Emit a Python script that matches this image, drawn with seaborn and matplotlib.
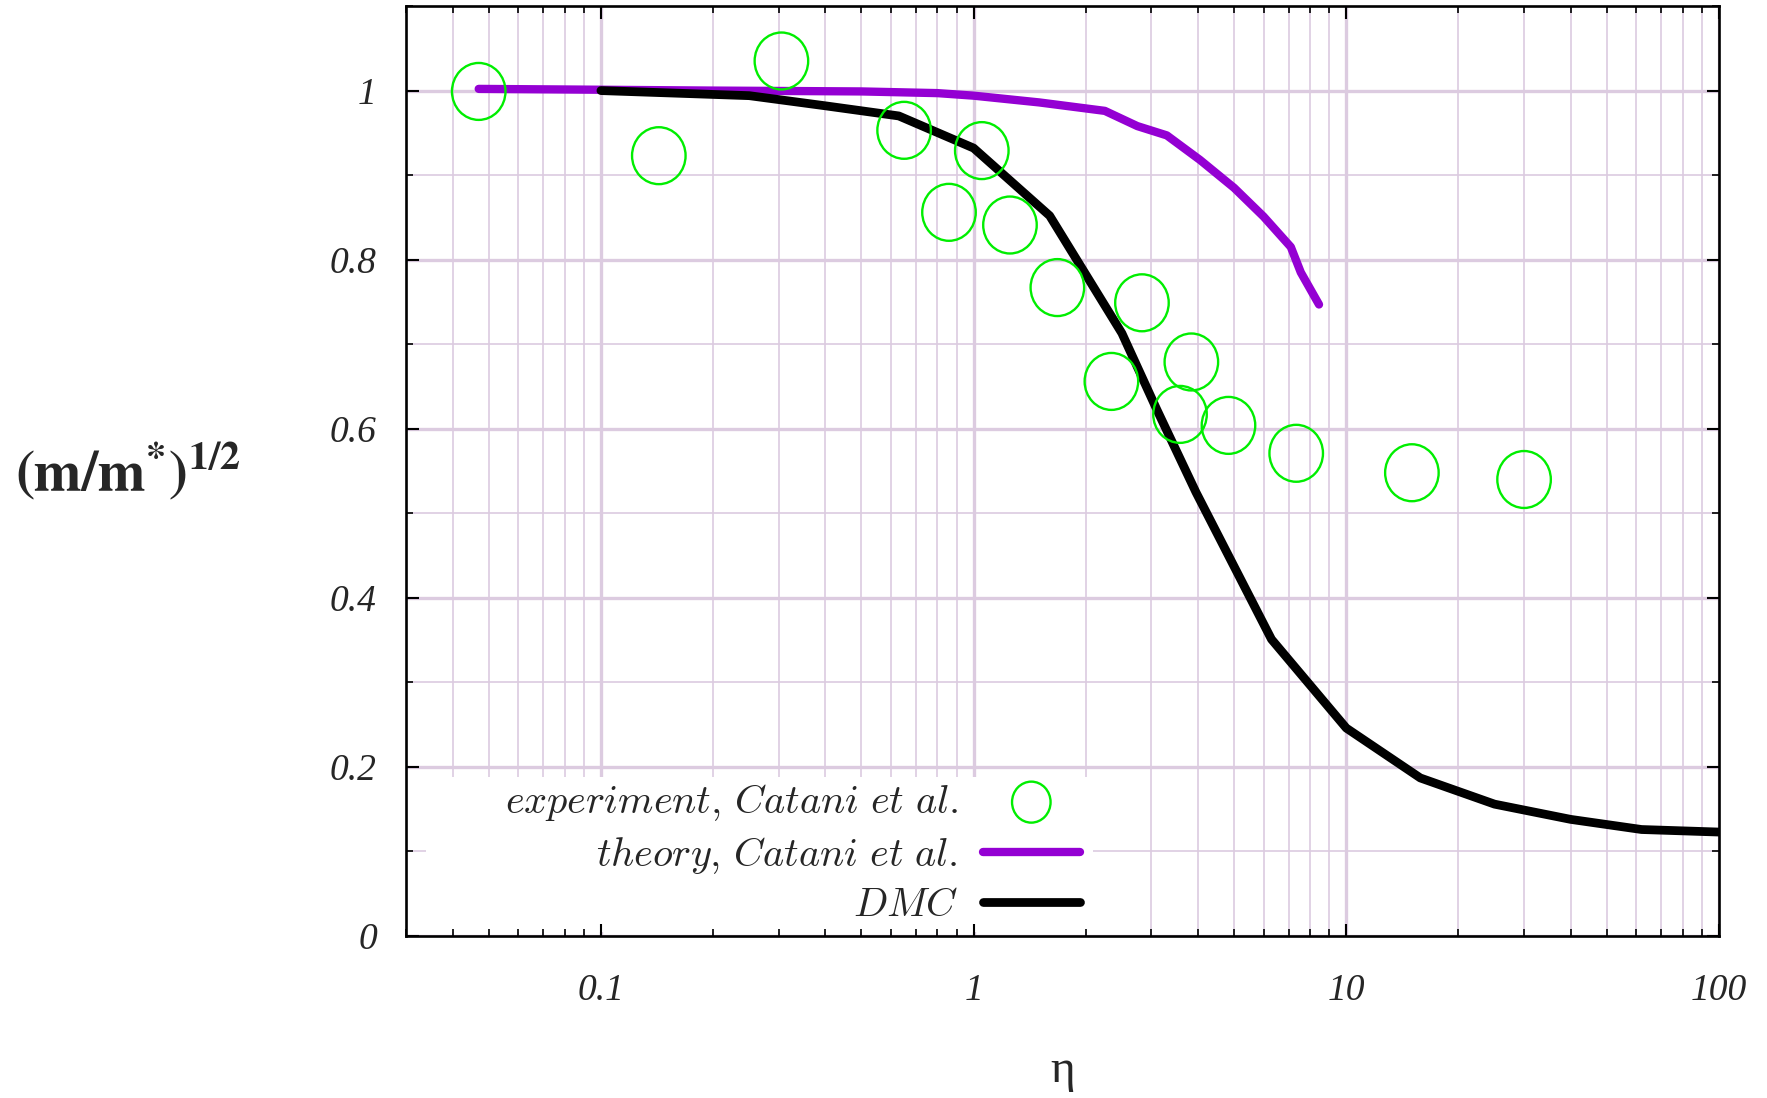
import numpy as np
import pandas as pd
import matplotlib
matplotlib.use("Agg")
import matplotlib.pyplot as plt
import seaborn as sns
from matplotlib.path import Path
from matplotlib.patches import Rectangle
from matplotlib.transforms import Affine2D
from matplotlib.ticker import MultipleLocator, LogLocator, NullFormatter, FixedLocator
from matplotlib.font_manager import FontProperties

# ---------------- data ----------------
exp_eta = [0.047, 0.143, 0.305, 0.651, 1.052, 0.859, 1.252, 1.678, 2.83, 2.343,
           3.84, 3.58, 4.83, 7.34, 15.0, 30.0]
exp_val = [0.999, 0.923, 1.035, 0.953, 0.929, 0.856, 0.841, 0.767, 0.749, 0.656,
           0.679, 0.617, 0.604, 0.571, 0.548, 0.540]

theory_eta = [0.047, 0.1, 0.2, 0.5, 0.8, 1.0, 1.5, 2.25, 2.75, 3.3, 4.05, 5.0,
              6.0, 7.1, 7.55, 8.45]
theory_val = [1.002, 1.001, 1.0, 0.999, 0.997, 0.994, 0.986, 0.976, 0.958, 0.947,
              0.918, 0.885, 0.851, 0.815, 0.785, 0.747]

dmc_eta = [0.1, 0.25, 0.4, 0.63, 1.0, 1.6, 2.5, 3.1, 3.95, 6.3, 10.0, 15.8, 25.0,
           40.0, 62.0, 100.0]
dmc_val = [1.0, 0.994, 0.982, 0.970, 0.932, 0.852, 0.713, 0.623, 0.525, 0.351,
           0.246, 0.187, 0.156, 0.138, 0.126, 0.123]

x_ticks = [0.1, 1, 10, 100]
x_tick_labels = ["0.1", "1", "10", "100"]
y_ticks = [0, 0.2, 0.4, 0.6, 0.8, 1.0]
y_tick_labels = ["0", "0.2", "0.4", "0.6", "0.8", "1"]

labels = [r"$\mathit{experiment,\,Catani\ et\ al.}$",
          r"$\mathit{theory,\,Catani\ et\ al.}$",
          r"$\mathit{DMC}$"]

exp_df = pd.DataFrame({"eta": exp_eta, "val": exp_val})
theory_df = pd.DataFrame({"eta": theory_eta, "val": theory_val})
dmc_df = pd.DataFrame({"eta": dmc_eta, "val": dmc_val})

# ---------------- style ----------------
sns.set_theme(style="ticks")
plt.rcParams['font.family'] = ['Liberation Serif', 'DejaVu Serif']
plt.rcParams['mathtext.fontset'] = 'cm'

GREEN = "#00ee00"
PURPLE = "#9400d3"
GRID = "#dccbe0"

RECT = [0.2298, 0.1475, 0.743, 0.847]
XLIM = (0.03, 100)
YLIM = (0, 1.1)
fig = plt.figure(figsize=(17.67, 10.98), dpi=100)
ax = fig.add_axes(RECT)

ellipse = Path.unit_circle().transformed(Affine2D().scale(0.94, 1.0))

sns.lineplot(data=theory_df, x="eta", y="val", ax=ax, color=PURPLE, lw=6,
             label=labels[1], zorder=3, sort=False)
sns.lineplot(data=dmc_df, x="eta", y="val", ax=ax, color="black", lw=6.3,
             label=labels[2], zorder=4, sort=False)
sns.scatterplot(data=exp_df, x="eta", y="val", ax=ax, marker=ellipse, s=41**2,
                facecolor="none", edgecolor=GREEN, linewidth=1.7,
                label=labels[0], zorder=5)


def setup_ticks(a):
    a.set_xscale("log")
    a.set_xlim(*XLIM)
    a.set_ylim(*YLIM)
    a.xaxis.set_major_locator(FixedLocator(x_ticks))
    a.xaxis.set_minor_locator(LogLocator(base=10, subs=np.arange(2, 10)))
    a.xaxis.set_minor_formatter(NullFormatter())
    a.yaxis.set_major_locator(FixedLocator(y_ticks))
    a.yaxis.set_minor_locator(MultipleLocator(0.1))


setup_ticks(ax)
ax.set_xticks(x_ticks, x_tick_labels, fontstyle="italic", fontsize=27)
ax.set_yticks(y_ticks, y_tick_labels, fontstyle="italic", fontsize=27)
ax.xaxis.set_minor_locator(LogLocator(base=10, subs=np.arange(2, 10)))
ax.xaxis.set_minor_formatter(NullFormatter())

ax.grid(which="major", color=GRID, lw=2.4)
ax.grid(which="minor", color=GRID, lw=1.2)
ax.set_axisbelow(True)
for sp in ax.spines.values():
    sp.set_visible(False)
ax.tick_params(which="both", length=0)
ax.tick_params(axis="x", which="major", pad=27)
ax.tick_params(axis="y", which="major", pad=21)

# key background (clears the grid behind the key, like gnuplot)
ax.add_patch(Rectangle((0.0155, 0.004), 0.508, 0.167, transform=ax.transAxes,
                       facecolor="white", edgecolor="none", zorder=1))

# overlay axes: frame and ticks drawn on top
ax2 = fig.add_axes(RECT)
setup_ticks(ax2)
ax2.patch.set_visible(False)
for sp in ax2.spines.values():
    sp.set_linewidth(1.9)
    sp.set_color("black")
    sp.set_visible(True)
ax2.tick_params(which="both", direction="in", top=True, right=True,
                color="black", labelbottom=False, labelleft=False)
ax2.tick_params(which="major", length=9, width=1.5)
ax2.tick_params(which="minor", length=5, width=1.2)
ax2.grid(False, which="both")

ax.set_xlabel("η", fontsize=34, family="Liberation Serif")
ax.xaxis.set_label_coords(0.5, -0.145)
ax.xaxis.label.set_va("center")
ax.set_ylabel(r"$\mathbf{(m/m^{*})^{1/2}}$", fontsize=41, rotation=0,
              math_fontfamily="stix")
ax.yaxis.set_label_coords(-0.212, 0.50)
ax.yaxis.label.set_va("center")
ax.yaxis.label.set_ha("center")

handles, labs = ax.get_legend_handles_labels()
order = [labs.index(l) for l in labels]
leg = ax.legend([handles[i] for i in order], [labs[i] for i in order],
                loc="lower right", bbox_to_anchor=(0.611, 0.1575),
                bbox_transform=fig.transFigure, borderaxespad=0.0,
                markerfirst=False, frameon=False, markerscale=0.72,
                prop=FontProperties(size=29, math_fontfamily="cm"),
                handlelength=2.4, handletextpad=0.62, labelspacing=0.3,
                borderpad=0.0, scatterpoints=1)
leg.set_zorder(6)

fig.savefig("out.png", dpi=100)
